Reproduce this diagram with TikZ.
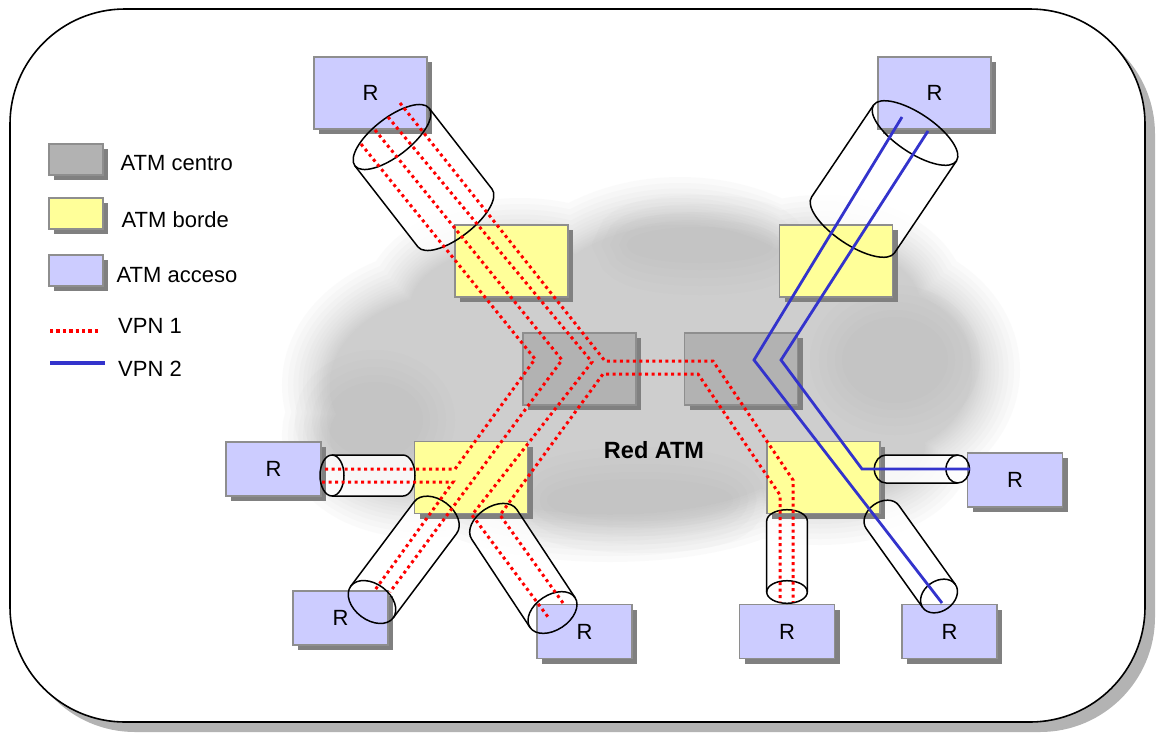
\documentclass[tikz,border=0pt]{standalone}
\usepackage{fontspec}
\setmainfont{Liberation Sans}
\usetikzlibrary{shadows}

\definecolor{accfill}{HTML}{CCCCFF}
\definecolor{bordefill}{HTML}{FFFF99}
\definecolor{corefill}{HTML}{B2B2B2}
\definecolor{boxline}{HTML}{8E8E8E}
\definecolor{boxshadow}{HTML}{808080}
\definecolor{vpnred}{HTML}{FF0000}
\definecolor{vpnblue}{HTML}{3333CC}
\definecolor{framegray}{HTML}{B3B3B3}
\definecolor{cloudgray}{HTML}{B6B6B6}
\definecolor{clouddark}{HTML}{999999}

% axis of a tube: start (router end) and far end
\newcommand\tubeaxis[4]{%
  \pgfmathsetmacro\tubeang{atan2(#2-#4,#3-#1)}%
  \pgfmathsetmacro\tubelen{veclen(#3-#1,#4-#2)}}
% white body of a tube: x1,y1,x2,y2,radius,end depth
\newcommand\tubebody[6]{%
  \tubeaxis{#1}{#2}{#3}{#4}%
  \begin{scope}[shift={(#1,#2)}, rotate=\tubeang]
    \fill[tubefill] (0,#5) -- (\tubelen,#5)
      arc[start angle=90, end angle=-90, x radius=#6, y radius=#5]
      -- (0,-#5) arc[start angle=270, end angle=90, x radius=#6, y radius=#5] -- cycle;
  \end{scope}}
% black outline of a tube
\newcommand\tubeedge[6]{%
  \tubeaxis{#1}{#2}{#3}{#4}%
  \begin{scope}[shift={(#1,#2)}, rotate=\tubeang]
    \draw[tubeline] (0,0) ellipse[x radius=#6, y radius=#5];
    \draw[tubeline] (0,#5) -- (\tubelen,#5)
      arc[start angle=90, end angle=-90, x radius=#6, y radius=#5] -- (0,-#5);
  \end{scope}}

\tikzset{
  unitbox/.style={rectangle, draw=boxline, line width=1.3pt, inner sep=0pt,
    font=\fontsize{22}{22}\selectfont,
    drop shadow={shadow xshift=5pt, shadow yshift=-5pt, fill=boxshadow, opacity=1}},
  bigbox/.style={minimum width=113pt, minimum height=72pt},
  smallbox/.style={minimum width=95pt, minimum height=54pt},
  keybox/.style={minimum width=54pt, minimum height=31pt},
  acc/.style={unitbox, fill=accfill},
  borde/.style={unitbox, fill=bordefill},
  core/.style={unitbox, fill=corefill},
  vpnone/.style={draw=vpnred, line width=3pt, dash pattern=on 3pt off 3.5pt},
  vpntwo/.style={draw=vpnblue, line width=2.8pt, line join=miter},
  tubefill/.style={fill=white, fill opacity=0.85},
  tubeline/.style={draw=black, line width=1.5pt, line join=round},
  keytext/.style={anchor=west, inner sep=0pt, font=\fontsize{22}{22}\selectfont},
}

\begin{document}
\begin{tikzpicture}[x=1pt, y=-1pt]
\useasboundingbox (0,0) rectangle (1156,732);

% outer frame with its shadow
\fill[framegray, rounded corners=115pt] (20,19) rectangle (1155,732);
\filldraw[fill=white, draw=black, line width=1.6pt, rounded corners=115pt] (10,9) rectangle (1145,722);

% soft cloud of the ATM network
\foreach \w in {96,84,73,63,54,46,39,33,27,22,17,13,9,6,3,0} {
  \begin{scope}[transparency group, opacity=0.055]
    \path[fill=cloudgray, draw=cloudgray, line width=\w pt]
      (460,385) ellipse[x radius=130, y radius=92]
      (680,330) ellipse[x radius=150, y radius=105]
      (860,370) ellipse[x radius=112, y radius=88]
      (610,452) ellipse[x radius=185, y radius=62]
      (420,435) ellipse[x radius=90, y radius=55]
      (820,445) ellipse[x radius=105, y radius=52]
      (520,308) ellipse[x radius=110, y radius=62]
      (820,305) ellipse[x radius=100, y radius=62];
  \end{scope}
}
\foreach \w in {70,52,36,20,6} {
  \begin{scope}[transparency group, opacity=0.035]
    \path[fill=clouddark, draw=clouddark, line width=\w pt]
      (375,420) ellipse[x radius=45, y radius=35]
      (895,360) ellipse[x radius=50, y radius=40]
      (640,500) ellipse[x radius=90, y radius=18]
      (700,245) ellipse[x radius=70, y radius=15];
  \end{scope}
}

% tube bodies
\tubebody{392}{137}{455}{218}{47}{19}
\tubebody{915}{133}{853}{225}{50}{19.5}
\tubebody{332}{475.5}{403}{475.5}{20.5}{12}
\tubebody{372}{602}{435.5}{517.5}{26.5}{18}
\tubebody{552.5}{612.5}{494}{524}{27}{17.5}
\tubebody{787}{592}{787}{521}{20.3}{11.3}
\tubebody{957.7}{469}{886}{469}{14}{11.7}
\tubebody{939}{596}{882.5}{517}{20}{15}

% switches and routers
\node[acc, bigbox]   (rTL) at (370.5,93)   {R};
\node[acc, bigbox]   (rTR) at (934.5,93)   {R};
\node[acc, smallbox] (rL)  at (273.5,469)  {R};
\node[acc, smallbox] (rBL) at (340.5,618)  {R};
\node[acc, smallbox] (rBC) at (584.5,631.5){R};
\node[acc, smallbox] (rBM) at (787,631.5)  {R};
\node[acc, smallbox] (rBR) at (949.5,631.5){R};
\node[acc, smallbox] (rR)  at (1015,480)   {R};
\node[borde, bigbox] (yTL) at (511.5,261)  {};
\node[borde, bigbox] (yTR) at (836,261)    {};
\node[borde, bigbox] (yBL) at (471,477.5)  {};
\node[borde, bigbox] (yBR) at (823.5,477.5){};
\node[core, bigbox]  (gL)  at (579.5,369)  {};
\node[core, bigbox]  (gR)  at (741,369)    {};

% tube outlines
\tubeedge{392}{137}{455}{218}{47}{19}
\tubeedge{915}{133}{853}{225}{50}{19.5}
\tubeedge{332}{475.5}{403}{475.5}{20.5}{12}
\tubeedge{372}{602}{435.5}{517.5}{26.5}{18}
\tubeedge{552.5}{612.5}{494}{524}{27}{17.5}
\tubeedge{787}{592}{787}{521}{20.3}{11.3}
\tubeedge{957.7}{469}{886}{469}{14}{11.7}
\tubeedge{939}{596}{882.5}{517}{20}{15}

% VPN 1 circuits
\coordinate (a0) at (361,144); \coordinate (a1) at (535,359); \coordinate (a2) at (455,469); \coordinate (a3) at (322,469);
\coordinate (b0) at (375,130); \coordinate (b1) at (562,360); \coordinate (b2) at (390,592);
\coordinate (c0) at (388,117); \coordinate (c1) at (592,362); \coordinate (c2) at (472,515); \coordinate (c3) at (548,617);
\coordinate (d0) at (400,103); \coordinate (d1) at (605,361); \coordinate (d2) at (713,361); \coordinate (d3) at (793,480); \coordinate (d4) at (793,602);
\coordinate (e0) at (563,603); \coordinate (e1) at (500,515); \coordinate (e2) at (603,374); \coordinate (e3) at (698,374); \coordinate (e4) at (780,495); \coordinate (e5) at (780,602);
\coordinate (f0) at (322,482); \coordinate (f1) at (453,482); \coordinate (f2) at (375,590);
\draw[vpnone] (a0) -- (a1) -- (a2) -- (a3);
\draw[vpnone] (b0) -- (b1) -- (b2);
\draw[vpnone] (c0) -- (c1) -- (c2) -- (c3);
\draw[vpnone] (d0) -- (d1) -- (d2) -- (d3) -- (d4);
\draw[vpnone] (e0) -- (e1) -- (e2) -- (e3) -- (e4) -- (e5);
\draw[vpnone] (f0) -- (f1) -- (f2);

% VPN 2 circuits
\coordinate (x0) at (902,117); \coordinate (x1) at (754,360); \coordinate (x2) at (942,603);
\coordinate (y0) at (928,131); \coordinate (y1) at (781,360); \coordinate (y2) at (862,469); \coordinate (y3) at (970,469);
\draw[vpntwo] (x0) -- (x1) -- (x2);
\draw[vpntwo] (y0) -- (y1) -- (y2) -- (y3);

\node[font=\bfseries\fontsize{23.5}{24}\selectfont, inner sep=0pt] (redatm) at (654,450) {Red ATM};

% key
\node[core, keybox]  (kc) at (76,159.5) {};
\node[borde, keybox] (kb) at (76,213.5) {};
\node[acc, keybox]   (ka) at (76,270.5) {};
\node[keytext] (kct) at (120.5,163) {ATM centro};
\node[keytext] (kbt) at (121.5,220) {ATM borde};
\node[keytext] (kat) at (116.5,275) {ATM acceso};
\coordinate (k1a) at (50,331); \coordinate (k1b) at (101,331);
\coordinate (k2a) at (50,362.5); \coordinate (k2b) at (105,362.5);
\draw[vpnone, line width=3.4pt, dash pattern=on 3.4pt off 3pt] (k1a) -- (k1b);
\draw[vpntwo, line width=4pt] (k2a) -- (k2b);
\node[keytext] (k1t) at (118,326) {VPN 1};
\node[keytext] (k2t) at (118,369) {VPN 2};
\end{tikzpicture}
\end{document}
